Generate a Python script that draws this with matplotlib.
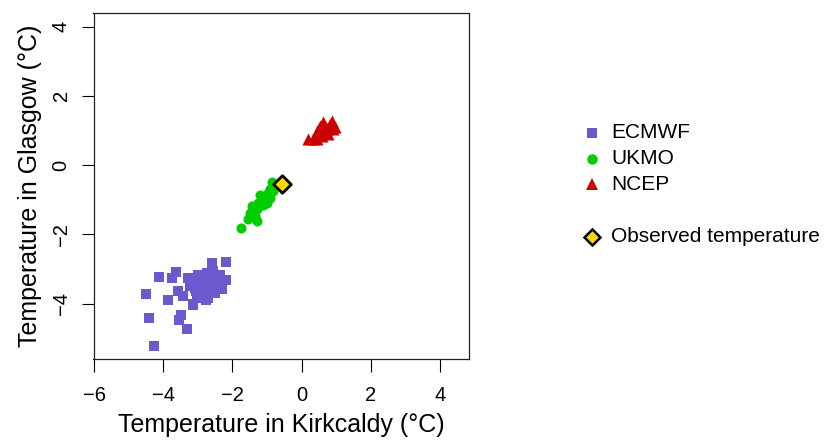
import matplotlib
matplotlib.use("Agg")
import matplotlib.pyplot as plt
from matplotlib.lines import Line2D

plt.rcParams['font.family'] = ['Liberation Sans', 'DejaVu Sans']

# ---- data ----
ecmwf_x = [-4.27, -4.42, -4.51, -4.13, -3.87, -3.62, -3.76, -3.59, -3.44, -3.55,
           -3.50, -3.31, -3.28, -3.14, -2.60, -2.19, -2.19, -2.99, -2.56, -3.43,
           -3.09, -3.14, -2.70, -2.31, -2.85, -2.65, -2.46, -2.94, -3.23, -2.80,
           -2.51, -3.04, -3.18, -2.75, -2.36, -2.60, -2.90, -2.70, -3.00, -2.55,
           -2.40, -2.85, -3.10, -2.65, -2.95, -2.50, -2.78, -3.05, -2.58, -2.88]
ecmwf_y = [-5.23, -4.43, -3.73, -3.24, -3.90, -3.09, -3.27, -3.64, -3.79, -4.46,
           -4.34, -4.73, -3.25, -4.01, -2.82, -2.79, -3.33, -3.16, -3.06, -3.79,
           -3.54, -4.03, -3.83, -3.59, -3.35, -3.45, -3.30, -3.64, -3.50, -3.74,
           -3.64, -3.83, -3.30, -3.11, -3.16, -3.01, -3.45, -3.60, -3.40, -3.50,
           -3.45, -3.55, -3.40, -3.25, -3.20, -3.70, -3.90, -3.65, -3.35, -3.30]

ukmo_x = [-1.74, -0.87, -1.21, -0.97, -0.92, -1.01, -1.45, -1.30, -1.50, -1.55,
          -1.30, -1.35, -1.11, -1.16, -1.26, -1.40, -0.92, -0.84, -1.05, -1.20]
ukmo_y = [-1.81, -0.49, -0.85, -0.80, -0.94, -1.09, -1.18, -1.28, -1.38, -1.57,
          -1.62, -1.47, -1.14, -0.99, -1.09, -1.33, -0.70, -0.75, -1.00, -1.10]

ncep_x = [0.19, 0.62, 0.87, 0.53, 0.43, 0.96, 0.38, 0.34, 0.72, 0.77,
          0.58, 0.91, 0.48, 0.67, 0.82, 0.62, 0.43, 0.77, 0.55, 0.70]
ncep_y = [0.75, 1.23, 1.26, 1.14, 0.99, 1.09, 0.79, 0.76, 1.03, 0.89,
          0.84, 1.03, 0.89, 1.13, 1.18, 0.98, 0.74, 1.08, 0.95, 0.92]

obs_x = [-0.58]
obs_y = [-0.56]

xticks = [-6, -4, -2, 0, 2, 4]
yticks = [-4, -2, 0, 2, 4]
legend_labels = ["ECMWF", "UKMO", "NCEP", "Observed temperature"]

c_ecmwf = "#6A5ACD"
c_ukmo = "#00CD00"
c_ncep = "#CD0000"
c_obs = "#FFD700"

# ---- figure ----
fig = plt.figure(figsize=(8.26, 4.42), dpi=100)
ax = fig.add_axes([93.5 / 826, 1 - 359 / 442, (469 - 93.5) / 826, (359 - 12.7) / 442])

ax.scatter(ecmwf_x, ecmwf_y, marker='s', s=62, c=c_ecmwf, linewidths=0, zorder=3)
ax.scatter(ukmo_x, ukmo_y, marker='o', s=52, c=c_ukmo, linewidths=0, zorder=3)
ax.scatter(ncep_x, ncep_y, marker='^', s=75, c=c_ncep, linewidths=0, zorder=3)
ax.scatter(obs_x, obs_y, marker='D', s=80, c=c_obs, edgecolors='black', linewidths=2, zorder=4)

ax.set_xlim(-6.02, 4.84)
ax.set_ylim(-5.6, 4.4)
ax.set_xticks(xticks)
ax.set_yticks(yticks)
ax.set_xticklabels([str(t).replace('-', '\u2212') for t in xticks])
ax.set_yticklabels([str(t).replace('-', '\u2212') for t in yticks], rotation=90, va='center')
ax.tick_params(direction='out', length=9, width=0.8, labelsize=14.5)
ax.tick_params(axis='x', pad=10.5)
ax.tick_params(axis='y', pad=7.5)
for sp in ax.spines.values():
    sp.set_linewidth(0.9)
    sp.set_color('#222222')

ax.set_xlabel("Temperature in Kirkcaldy (\u00b0C)", fontsize=18, labelpad=6)
ax.set_ylabel("Temperature in Glasgow (\u00b0C)", fontsize=18, labelpad=7)

# ---- legend ----
leg_marker_x = 592 / 826
leg_text_x = 611 / 826
leg_ys = [133, 159, 184, 237]
leg_styles = [dict(marker='s', color=c_ecmwf, markersize=7, mew=0),
              dict(marker='o', color=c_ukmo, markersize=7.5, mew=0),
              dict(marker='^', color=c_ncep, markersize=8.5, mew=0),
              dict(marker='D', markerfacecolor=c_obs, markeredgecolor='black', markersize=8, mew=1.8)]
for lab, yy, st in zip(legend_labels, leg_ys, leg_styles):
    fy = 1 - yy / 442
    fig.add_artist(Line2D([leg_marker_x], [fy], linestyle='none', transform=fig.transFigure, **st))
    fig.text(leg_text_x, fy, lab, fontsize=15, va='center', ha='left')

fig.savefig("out.png", dpi=100)
